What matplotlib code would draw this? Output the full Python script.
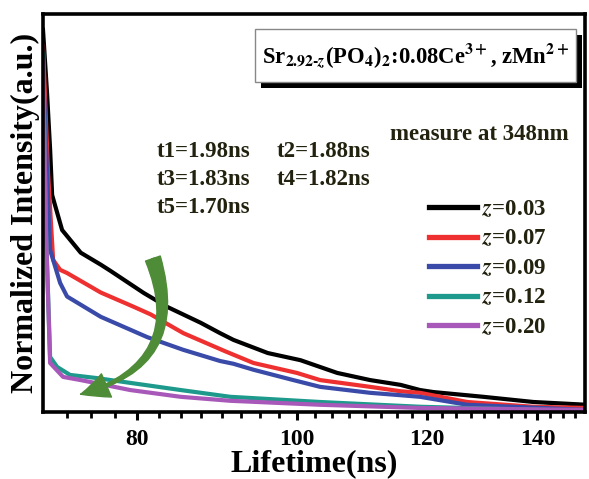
import numpy as np
import matplotlib
matplotlib.use("Agg")
import matplotlib.pyplot as plt
from matplotlib.patches import Rectangle, FancyArrowPatch
from matplotlib.ticker import FixedLocator, NullFormatter, FixedFormatter

plt.rcParams['font.family'] = ['Liberation Serif', 'DejaVu Serif']
plt.rcParams['font.weight'] = 'bold'
plt.rcParams['mathtext.fontset'] = 'stix'

# ---- data (time in ns, normalized intensity) ----
t_black = [70.1, 70.5, 70.8, 71.0, 72.0, 73.9, 76.0, 77.0, 80.7, 83.4, 87.4, 89.8,
           91.5, 96.0, 100.5, 105.8, 110.8, 115.6, 118.8, 121.0, 129.8, 139.2, 150.0]
i_black = [0.96, 0.80, 0.66, 0.545, 0.457, 0.40, 0.37, 0.355, 0.299, 0.264, 0.224, 0.198,
           0.181, 0.148, 0.13, 0.098, 0.080, 0.068, 0.055, 0.050, 0.038, 0.025, 0.018]

t_red = [70.1, 70.6, 71.1, 71.8, 72.5, 76.0, 79.6, 81.5, 85.3, 90.5, 94.1, 100.0,
         103.3, 110.8, 115.6, 118.8, 126.9, 139.2, 150.0]
i_red = [0.92, 0.60, 0.382, 0.357, 0.349, 0.30, 0.264, 0.245, 0.198, 0.152, 0.123, 0.098,
         0.080, 0.063, 0.052, 0.048, 0.025, 0.013, 0.010]

t_blue = [70.1, 70.5, 70.8, 71.8, 72.5, 76.0, 81.1, 85.3, 89.8, 91.5, 94.1, 99.5,
          103.3, 110.8, 115.6, 118.8, 126.9, 150.0]
i_blue = [0.872, 0.60, 0.407, 0.324, 0.29, 0.239, 0.188, 0.156, 0.128, 0.121, 0.106, 0.080,
          0.063, 0.048, 0.042, 0.038, 0.018, 0.005]

t_teal = [70.1, 70.4, 70.8, 71.5, 72.8, 75.6, 79.2, 85.0, 91.1, 103.3, 118.8, 150.0]
i_teal = [0.90, 0.45, 0.138, 0.113, 0.093, 0.085, 0.073, 0.055, 0.038, 0.025, 0.013, 0.002]

t_purple = [70.1, 70.4, 70.8, 72.1, 73.9, 79.2, 85.0, 91.1, 103.3, 118.8, 150.0]
i_purple = [0.88, 0.45, 0.123, 0.088, 0.080, 0.055, 0.038, 0.028, 0.018, 0.010, 0.005]

labels = [r'$z$=0.03', r'$z$=0.07', r'$z$=0.09', r'$z$=0.12', r'$z$=0.20']
colors = ['#000000', '#ee3030', '#3a4aa8', '#1e9a8c', '#a858b8']

xticks_major = [80, 100, 120, 140]
xticks_minor = [72.5, 75, 77.5, 82.5, 85, 87.5, 90, 92.5, 95, 97.5, 102.5, 105, 107.5,
                110, 112.5, 115, 117.5, 122.5, 125, 127.5, 130, 132.5, 135, 137.5,
                142.5, 145, 147.5]

lifetimes = ['t1=1.98ns', 't2=1.88ns', 't3=1.83ns', 't4=1.82ns', 't5=1.70ns']

fig = plt.figure(figsize=(5.89, 4.79), dpi=100)
ax = fig.add_axes([0.073, 0.140, 0.920, 0.831])

series = [(t_black, i_black), (t_red, i_red), (t_blue, i_blue), (t_teal, i_teal), (t_purple, i_purple)]
for (t, i), c, lab in zip(series, colors, labels):
    ax.plot(t, i, color=c, lw=3.0, label=lab, solid_joinstyle='round')

ax.set_xscale('log')
ax.set_xlim(70.1, 149.6)
ax.set_ylim(0, 1.0)
ax.xaxis.set_major_locator(FixedLocator(xticks_major))
ax.xaxis.set_minor_locator(FixedLocator(xticks_minor))
ax.xaxis.set_major_formatter(FixedFormatter([str(v) for v in xticks_major]))
ax.xaxis.set_minor_formatter(NullFormatter())
ax.tick_params(axis='x', which='major', direction='out', length=6, width=2.2, labelsize=17, pad=6)
ax.tick_params(axis='x', which='minor', direction='out', length=4, width=2.0)
ax.set_yticks([])
for s in ax.spines.values():
    s.set_linewidth(2.6)

ax.set_xlabel('Lifetime(ns)', fontsize=23, fontweight='bold', labelpad=0)
ax.set_ylabel('Normalized Intensity(a.u.)', fontsize=23, fontweight='bold', labelpad=2)

# title box with shadow
ax.add_patch(Rectangle((0.402, 0.814), 0.592, 0.133, transform=ax.transAxes,
                       facecolor='black', edgecolor='none', zorder=5))
ax.add_patch(Rectangle((0.391, 0.829), 0.592, 0.133, transform=ax.transAxes,
                       facecolor='white', edgecolor='#888888', lw=1.0, zorder=6))
ax.text(0.687, 0.893,
        r'Sr$_{\mathbf{2.92\text{-}}z}$(PO$_{\mathbf{4}}$)$_{\mathbf{2}}$:0.08Ce$^{\mathbf{3+}}$, zMn$^{\mathbf{2+}}$',
        transform=ax.transAxes, ha='center', va='center', fontsize=16.3, fontweight='bold', zorder=7)

tc = '#22220f'
pos = [(0.210, 0.641), (0.432, 0.641), (0.210, 0.570), (0.432, 0.570), (0.210, 0.500)]
for (x, y), s in zip(pos, lifetimes):
    ax.text(x, y, s, transform=ax.transAxes, ha='left', va='baseline', fontsize=16.5,
            fontweight='bold', color=tc)
ax.text(0.640, 0.683, 'measure at 348nm', transform=ax.transAxes, ha='left', va='baseline',
        fontsize=16.5, fontweight='bold', color=tc)

leg = ax.legend(loc='upper left', bbox_to_anchor=(0.712, 0.535), frameon=False, fontsize=16.5,
                handlelength=2.1, handletextpad=0.2, labelspacing=0.37, borderpad=0,
                borderaxespad=0)
for h in leg.get_lines():
    h.set_linewidth(3.8)
for txt in leg.get_texts():
    txt.set_color(tc)

# curved green arrow (decorative)
arr_kw = dict(transform=ax.transAxes, connectionstyle='arc3,rad=-0.55', color='#4f8c38',
              zorder=4, mutation_scale=14)
p0 = ((152 - 43) / 542, (412 - 256) / 398)
p1 = ((78 - 43) / 542, (412 - 395) / 398)
ax.add_patch(FancyArrowPatch(p0, p1, arrowstyle='wedge,tail_width=0.8,shrink_factor=0.5', **arr_kw))
ax.add_patch(FancyArrowPatch(p0, p1, arrowstyle='simple,head_width=1.3,head_length=1.4,tail_width=0.15', **arr_kw))

fig.savefig('out.png', dpi=100)
